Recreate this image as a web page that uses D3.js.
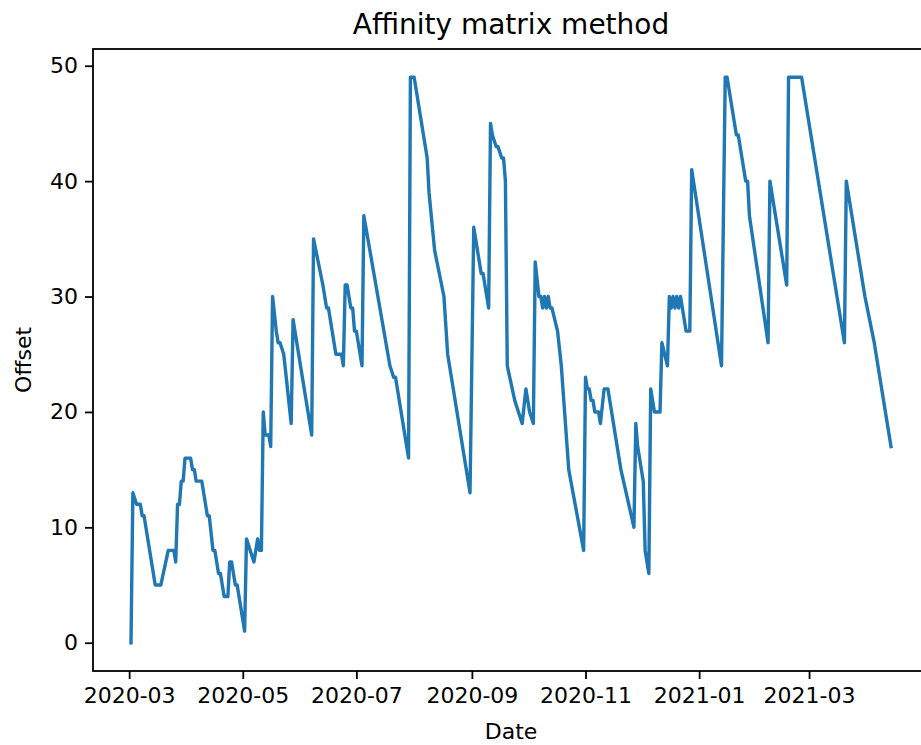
<!DOCTYPE html>
<html>
<head>
<meta charset="utf-8">
<script src="https://cdn.jsdelivr.net/npm/d3@7"></script>
<style>
  body { margin: 0; background: #fff; }
  svg text { font-family: "DejaVu Sans", sans-serif; fill: #000; }
</style>
</head>
<body>
<svg id="chart" width="921" height="745"></svg>
<script>
// values (turning points of the line)
let dates = [
  "2020-03-02","2020-03-03","2020-03-05","2020-03-07","2020-03-08","2020-03-09","2020-03-14","2020-03-15",
  "2020-03-18","2020-03-22","2020-03-25","2020-03-26","2020-03-27","2020-03-28","2020-03-29","2020-03-30",
  "2020-03-31","2020-04-03","2020-04-04","2020-04-05","2020-04-06","2020-04-09","2020-04-12","2020-04-13",
  "2020-04-15","2020-04-16","2020-04-18","2020-04-19","2020-04-21","2020-04-23","2020-04-24","2020-04-25",
  "2020-04-27","2020-04-28","2020-05-02","2020-05-03","2020-05-07","2020-05-09","2020-05-10","2020-05-11",
  "2020-05-12","2020-05-13","2020-05-15","2020-05-16","2020-05-17","2020-05-19","2020-05-20","2020-05-21",
  "2020-05-23","2020-05-27","2020-05-28","2020-06-07","2020-06-08","2020-06-13","2020-06-15","2020-06-16",
  "2020-06-20","2020-06-23","2020-06-24","2020-06-25","2020-06-26","2020-06-28","2020-06-29","2020-06-30",
  "2020-07-01","2020-07-04","2020-07-05","2020-07-19","2020-07-21","2020-07-22","2020-07-29","2020-07-30",
  "2020-08-01","2020-08-08","2020-08-09","2020-08-12","2020-08-17","2020-08-19","2020-08-31","2020-09-02",
  "2020-09-06","2020-09-07","2020-09-10","2020-09-11","2020-09-12","2020-09-14","2020-09-15","2020-09-17",
  "2020-09-18","2020-09-19","2020-09-20","2020-09-24","2020-09-26","2020-09-28","2020-09-30","2020-10-02",
  "2020-10-04","2020-10-05","2020-10-07","2020-10-08","2020-10-09","2020-10-10","2020-10-11","2020-10-12",
  "2020-10-13","2020-10-14","2020-10-17","2020-10-19","2020-10-23","2020-10-31","2020-11-01","2020-11-02",
  "2020-11-03","2020-11-04","2020-11-05","2020-11-06","2020-11-08","2020-11-09","2020-11-11","2020-11-13",
  "2020-11-20","2020-11-27","2020-11-28","2020-11-29","2020-12-02","2020-12-03","2020-12-05","2020-12-06",
  "2020-12-08","2020-12-11","2020-12-12","2020-12-15","2020-12-16","2020-12-17","2020-12-18","2020-12-19",
  "2020-12-20","2020-12-21","2020-12-22","2020-12-23","2020-12-25","2020-12-27","2020-12-28","2021-01-13",
  "2021-01-15","2021-01-16","2021-01-21","2021-01-22","2021-01-26","2021-01-27","2021-01-28","2021-02-07",
  "2021-02-08","2021-02-17","2021-02-18","2021-02-25","2021-03-20","2021-03-21","2021-03-31","2021-04-05",
  "2021-04-14"
];
let offsets = [
  0,13,12,12,11,11,6,5,
  5,8,8,7,12,12,14,14,
  16,16,15,15,14,14,11,11,
  8,8,6,6,4,4,7,7,
  5,5,1,9,7,9,8,8,
  20,18,18,17,30,27,26,26,
  25,19,28,18,35,31,29,29,
  25,25,24,31,31,29,29,27,
  27,24,37,24,23,23,16,49,
  49,42,39,34,30,25,13,36,
  32,32,29,45,44,43,43,42,
  42,40,24,21,20,19,22,20,
  19,33,30,30,29,30,29,30,
  29,29,27,24,15,8,23,22,
  22,21,21,20,20,19,22,22,
  15,10,19,17,14,8,6,22,
  20,20,26,24,30,29,30,29,
  30,29,30,29,27,27,41,24,
  49,49,44,44,40,40,37,26,
  40,31,49,49,26,40,30,26,
  17
];
let xTickLabels = ["2020-03","2020-05","2020-07","2020-09","2020-11","2021-01","2021-03"];
let yTicks = [0, 10, 20, 30, 40, 50];

let parse = d3.timeParse("%Y-%m-%d");
let parseMonth = d3.timeParse("%Y-%m");

// axes box (right edge falls just outside the picture)
let plotLeft = 93, plotRight = 929, plotTop = 49, plotBottom = 671;

let svg = d3.select("#chart");

let data = dates.map((d, i) => ({date: parse(d), value: offsets[i]}));

// matplotlib-like 5% margins
let t0 = data[0].date, t1 = data[data.length - 1].date;
let pad = (t1 - t0) * 0.05;
let x = d3.scaleTime()
  .domain([new Date(+t0 - pad), new Date(+t1 + pad)])
  .range([plotLeft, plotRight]);

let vmin = d3.min(offsets), vmax = d3.max(offsets);
let vpad = (vmax - vmin) * 0.05;
let y = d3.scaleLinear()
  .domain([vmin - vpad, vmax + vpad])
  .range([plotBottom, plotTop]);

// line
let line = d3.line()
  .x(d => x(d.date))
  .y(d => y(d.value));

svg.append("path")
  .datum(data)
  .attr("d", line)
  .attr("fill", "none")
  .attr("stroke", "#1f77b4")
  .attr("stroke-width", 3.4)
  .attr("stroke-linejoin", "round")
  .attr("stroke-linecap", "square");

// x axis
let xAxis = d3.axisBottom(x)
  .tickValues(xTickLabels.map(parseMonth))
  .tickFormat(d3.timeFormat("%Y-%m"))
  .tickSize(8)
  .tickSizeOuter(0)
  .tickPadding(8);

let gx = svg.append("g")
  .attr("transform", `translate(0,${plotBottom})`)
  .call(xAxis);
gx.select(".domain").remove();
gx.selectAll(".tick line").attr("stroke", "#000").attr("stroke-width", 1.8);
gx.selectAll(".tick text").attr("font-size", 22).attr("font-family", "DejaVu Sans");

// y axis
let yAxis = d3.axisLeft(y)
  .tickValues(yTicks)
  .tickSize(8)
  .tickSizeOuter(0)
  .tickPadding(7);

let gy = svg.append("g")
  .attr("transform", `translate(${plotLeft},0)`)
  .call(yAxis);
gy.select(".domain").remove();
gy.selectAll(".tick line").attr("stroke", "#000").attr("stroke-width", 1.8);
gy.selectAll(".tick text").attr("font-size", 22).attr("font-family", "DejaVu Sans");

// spines
svg.append("rect")
  .attr("x", plotLeft)
  .attr("y", plotTop)
  .attr("width", plotRight - plotLeft)
  .attr("height", plotBottom - plotTop)
  .attr("fill", "none")
  .attr("stroke", "#000")
  .attr("stroke-width", 1.8);

// title and labels
svg.append("text")
  .attr("x", (plotLeft + plotRight) / 2)
  .attr("y", 34)
  .attr("text-anchor", "middle")
  .attr("font-size", 28)
  .text("Affinity matrix method");

svg.append("text")
  .attr("x", (plotLeft + plotRight) / 2)
  .attr("y", 739)
  .attr("text-anchor", "middle")
  .attr("font-size", 22)
  .text("Date");

svg.append("text")
  .attr("transform", `translate(31,${(plotTop + plotBottom) / 2}) rotate(-90)`)
  .attr("text-anchor", "middle")
  .attr("font-size", 22)
  .text("Offset");
</script>
</body>
</html>
